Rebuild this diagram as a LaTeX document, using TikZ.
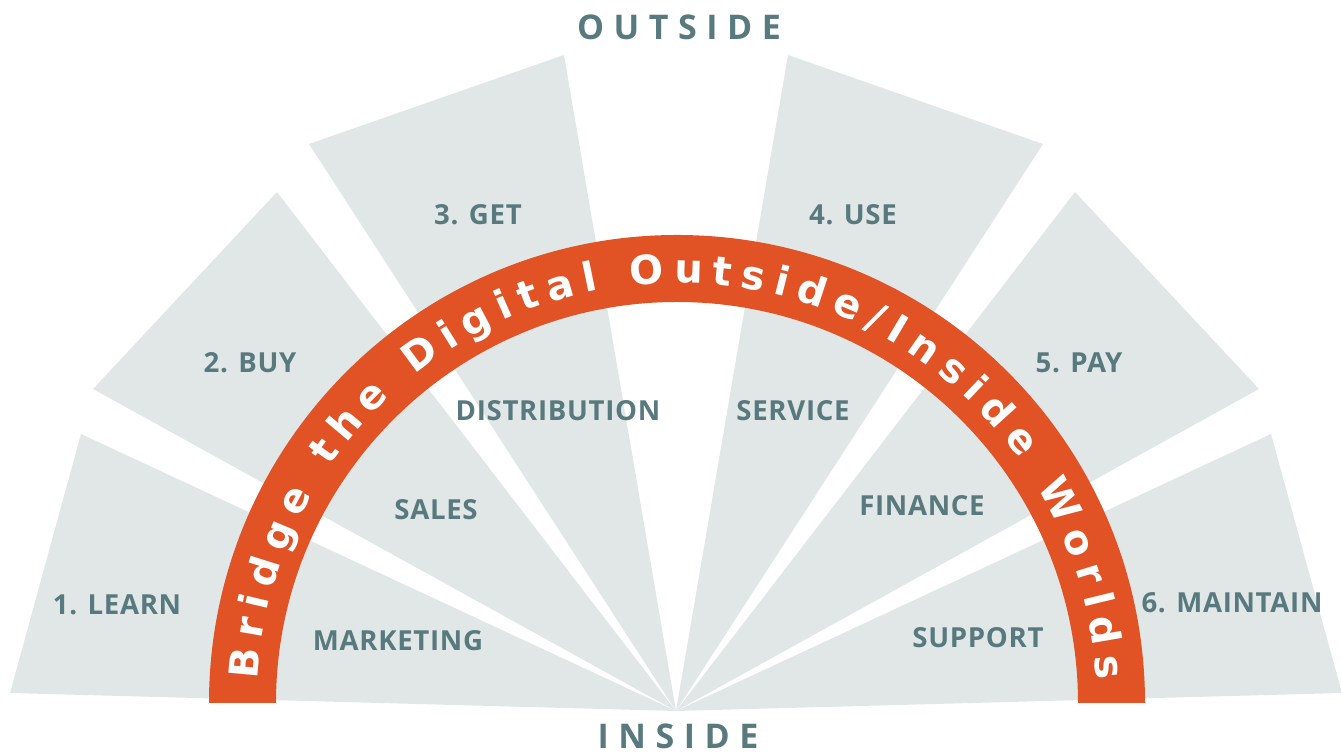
\documentclass[tikz,border=0pt]{standalone}
\usepackage{fontspec}
\setmainfont{Open Sans}
\newfontfamily\lblfont[LetterSpace=2.5]{Open Sans}
\newfontfamily\wideFont[LetterSpace=28]{Open Sans}
\newfontfamily\archfont{DejaVu Sans}
\usetikzlibrary{decorations.text,calc}
\definecolor{wedgegray}{HTML}{E1E7E7}
\definecolor{labelteal}{HTML}{587A7E}
\definecolor{archorange}{HTML}{E15225}
\begin{document}
\begin{tikzpicture}[x=0.5pt,y=0.5pt,
  wedge/.style={fill=wedgegray,draw=none},
  lbl/.style={text=labelteal,font=\lblfont\bfseries\fontsize{13.8}{16}\selectfont,inner sep=0pt},
  sidelbl/.style={text=labelteal,font=\wideFont\bfseries\fontsize{17}{20}\selectfont,inner sep=0pt,anchor=base}]
\useasboundingbox (0,0) rectangle (1341,753);
\clip (0,0) rectangle (1341,753);
\coordinate (apex) at (676,42);
% wedges
\fill[wedge] (apex) -- (10,60) -- (81,319) -- cycle;
\fill[wedge] (apex) -- (93,364) -- (277,561) -- cycle;
\fill[wedge] (apex) -- (309,609) -- (564,698) -- cycle;
\fill[wedge] (apex) -- (788,698) -- (1043,609) -- cycle;
\fill[wedge] (apex) -- (1075,561) -- (1259,364) -- cycle;
\fill[wedge] (apex) -- (1271,319) -- (1342,60) -- cycle;
% arch
\coordinate (archc) at (677,50);
\fill[archorange] (209,50) arc[start angle=180,end angle=0,radius=468] -- (1078,50) arc[start angle=0,end angle=180,radius=401] -- cycle;
\path[decorate,decoration={text along path,
   text={|\archfont\bfseries\fontsize{20}{22}\selectfont|Bridge the Digital Outside/Inside Worlds},
   text color=white, text align={fit to path}}]
   ($(archc)+(176.8:420)$) arc[start angle=176.8,end angle=3.2,radius=420];
% labels
\node[sidelbl] (outside) at (679,713) {OUTSIDE};
\node[sidelbl] (inside) at (678,4) {INSIDE};
\node[lbl] (learn) at (117,148) {1. LEARN};
\node[lbl] (buy) at (250,390) {2. BUY};
\node[lbl] (get) at (478,538) {3. GET};
\node[lbl] (use) at (853,538) {4. USE};
\node[lbl] (pay) at (1079,390) {5. PAY};
\node[lbl] (maintain) at (1232,150) {6. MAINTAIN};
\node[lbl] (marketing) at (398,112) {MARKETING};
\node[lbl] (sales) at (436,243) {SALES};
\node[lbl] (distribution) at (558,342) {DISTRIBUTION};
\node[lbl] (service) at (793,342) {SERVICE};
\node[lbl] (finance) at (922,247) {FINANCE};
\node[lbl] (support) at (978,115) {SUPPORT};
\end{tikzpicture}
\end{document}
